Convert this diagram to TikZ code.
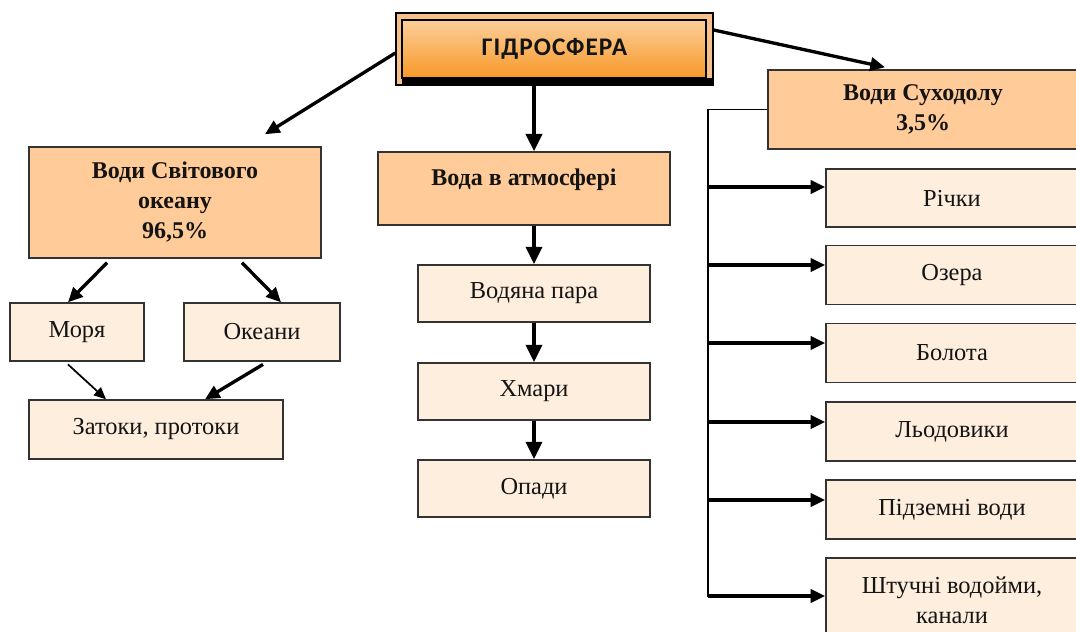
\documentclass[tikz,border=0pt]{standalone}
\usepackage{fontspec}
\setmainfont{Liberation Serif}
\newfontfamily\hdfont[LetterSpace=4]{Carlito}
\usetikzlibrary{arrows.meta,calc}
\definecolor{boxA}{HTML}{FFCC99}
\definecolor{boxB}{HTML}{FDEEDD}
\definecolor{hdtop}{HTML}{FCD5A8}
\definecolor{hdbot}{HTML}{F7921A}
\definecolor{hdrim}{HTML}{F6C08A}
\definecolor{ink}{HTML}{141414}
\begin{document}
\begin{tikzpicture}[x=0.75pt,y=-0.75pt,
  font=\fontsize{18.3}{22.5}\selectfont,
  box/.style={draw=black!80, line width=1.1pt, inner sep=0pt, align=center, text=ink},
  bigbox/.style={box, fill=boxA, font=\bfseries\fontsize{18}{22.5}\selectfont},
  smallbox/.style={box, fill=boxB},
  sidebox/.style={smallbox, minimum width=189pt, minimum height=44pt},
  midbox/.style={smallbox, minimum width=174pt, minimum height=43pt},
  arr/.style={-{Triangle[length=11pt,width=10pt]}, line width=2.5pt},
  varr/.style={-{Triangle[length=13pt,width=12pt]}, line width=2.7pt},
  tarr/.style={-{Triangle[length=9pt,width=8pt]}, line width=1.3pt},
  trunk/.style={line width=1.3pt}]
\useasboundingbox (0,0) rectangle (1076,632);
\clip (0,0) rectangle (1076,632);
\fill[white] (0,0) rectangle (1076,632);

% header
\node[draw=black, line width=1pt, fill=hdrim, inner sep=0pt,
      minimum width=237.75pt, minimum height=54pt,
      font=\hdfont\bfseries\fontsize{19}{22}\selectfont, text=ink,
      path picture={
        \shade[top color=hdtop, bottom color=hdbot, draw=black, line width=1.2pt]
          ([shift={(6,7)}]path picture bounding box.north west) rectangle
          ([shift={(-7,-7)}]path picture bounding box.south east);
        \fill[black] ([shift={(6,-7)}]path picture bounding box.south west) rectangle
          (path picture bounding box.south east);
      }] (hyd) at (554.5,49) {\raisebox{2pt}{ГІДРОСФЕРА}};

% ocean branch
\node[bigbox, minimum width=219pt, minimum height=83.25pt] (ocean) at (175,202.5) {Води Світового\\океану\\96,5\%};
\node[smallbox, minimum width=100.5pt, minimum height=43.5pt] (sea) at (77,332) {Моря};
\node[smallbox, minimum width=117pt, minimum height=43.5pt] (oceans) at (262,332) {Океани};
\node[smallbox, minimum width=190.5pt, minimum height=44.25pt] (bays) at (156,429.5) {Затоки, протоки};

% atmosphere branch
\node[bigbox, minimum width=219pt, text height=24.75pt, text depth=30pt] (atm) at (524,188.5) {Вода в атмосфері};
\node[midbox] (vapor) at (534,293.5) {Водяна пара};
\node[midbox] (clouds) at (534,391.5) {Хмари};
\node[midbox] (precip) at (534,488.5) {Опади};

% land branch
\node[bigbox, minimum width=232.5pt, minimum height=59.25pt] (land) at (923,109.5) {Води Суходолу\\3,5\%};
\node[sidebox, minimum height=43.5pt] (rivers) at (952,198) {Річки};
\node[sidebox] (lakes) at (952,275) {Озера};
\node[sidebox] (swamps) at (952,353) {Болота};
\node[sidebox] (glaciers) at (952,431.5) {Льодовики};
\node[sidebox] (ground) at (952,509.5) {Підземні води};
\node[smallbox, minimum width=189pt, minimum height=63pt] (artif) at (952,600) {Штучні водойми,\\канали};

% header connectors
\draw[arr] ([yshift=-3pt]hyd.west) -- ([xshift=67.5pt,yshift=9pt]ocean.north);
\draw[arr] ([yshift=14.25pt]hyd.east) -- ([xshift=-28.5pt,yshift=1.5pt]land.north);
\draw[varr] (hyd.south -| vapor.north) -- (atm.north -| vapor.north);

% ocean connectors
\draw[arr] ([xshift=-51pt,yshift=-3pt]ocean.south) -- ([xshift=-6.75pt]sea.north);
\draw[arr] ([xshift=50.25pt,yshift=-3pt]ocean.south) -- ([xshift=14.25pt]oceans.north);
\draw[tarr] ([xshift=-6.75pt,yshift=-2pt]sea.south) -- ([xshift=-37.5pt]bays.north);
\draw[arr] ([xshift=0.75pt,yshift=-2pt]oceans.south) -- ([xshift=36.75pt]bays.north);

% atmosphere connectors
\draw[varr] (atm.south -| vapor.north) -- (vapor.north);
\draw[varr] (vapor.south) -- (clouds.north);
\draw[varr] (clouds.south) -- (precip.north);

% land trunk
\coordinate (tend) at (708,597);
\draw[trunk] (land.west) -| (tend);
\coordinate (t1) at (708,187);
\coordinate (t2) at (708,265);
\coordinate (t3) at (708,343);
\coordinate (t4) at (708,422);
\coordinate (t5) at (708,500);
\coordinate (t6) at (708,596);
\draw[arr] (t1) -- (t1 -| rivers.west);
\draw[arr] (t2) -- (t2 -| lakes.west);
\draw[arr] (t3) -- (t3 -| swamps.west);
\draw[arr] (t4) -- (t4 -| glaciers.west);
\draw[arr] (t5) -- (t5 -| ground.west);
\draw[arr] (t6) -- (t6 -| artif.west);
\end{tikzpicture}
\end{document}
